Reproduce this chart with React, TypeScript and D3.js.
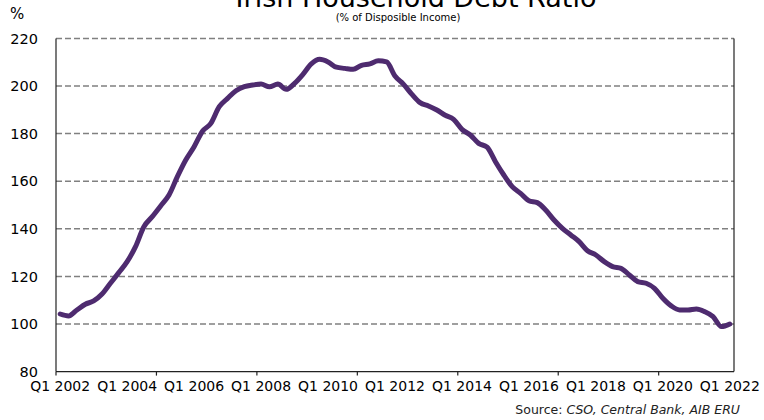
import React from "react";
import * as d3 from "d3";

const values: number[] = [
  104.2, 103.4, 105.9, 108.3, 109.7, 112.6, 117.1, 121.6, 126.2, 132.5,
  140.9, 145.1, 149.6, 154.2, 161.9, 168.9, 174.5, 181.0, 184.3, 191.3,
  194.8, 198.0, 199.7, 200.4, 200.8, 199.7, 200.8, 198.6, 201.1, 204.9,
  209.3, 211.2, 210.1, 207.9, 207.4, 207.0, 208.7, 209.3, 210.6, 210.1,
  204.2, 200.8, 196.6, 193.0, 191.6, 189.9, 187.7, 186.0, 181.8, 179.4,
  175.9, 174.3, 168.2, 162.6, 157.7, 154.9, 151.8, 151.0, 147.9, 143.7,
  140.2, 137.4, 134.6, 130.8, 129.0, 126.2, 124.1, 123.4, 120.6, 117.8,
  117.1, 115.0, 110.8, 107.6, 105.9, 105.9, 106.3, 105.2, 103.1, 98.9,
  100.0,
];
const years = d3.range(2002, 2023);
const quarters: string[] = [];
years.forEach((y) => [1, 2, 3, 4].forEach((q) => quarters.push(`Q${q} ${y}`)));
const categories = quarters.slice(0, values.length);
const xLabels = ["Q1 2002", "Q1 2004", "Q1 2006", "Q1 2008", "Q1 2010", "Q1 2012", "Q1 2014", "Q1 2016", "Q1 2018", "Q1 2020", "Q1 2022"];
const tickCats = categories.filter((_, i) => i % 12 === 0);
const yTicks = [80, 100, 120, 140, 160, 180, 200, 220];

const W = 764, H = 420;
const L = 56, R = 734, T = 38.4, B = 371.6;
const font = "'DejaVu Sans', sans-serif";

export default function App() {
  const x = d3.scaleBand<string>().domain(categories).range([L, R]).padding(0);
  const bw = x.bandwidth();
  const y = d3.scaleLinear().domain([80, 220]).range([B, T]);
  const line = d3
    .line<number>()
    .x((_, i) => (x(categories[i]) as number) + bw / 2)
    .y((d) => y(d))
    .curve(d3.curveMonotoneX);
  return (
    <svg width={W} height={H} style={{ position: "absolute", left: 0, top: 0, background: "#fff" }}>
      <text x={416} y={7} textAnchor="middle" fontFamily={font} fontSize={27} fill="#000">
        Irish Household Debt Ratio
      </text>
      <text x={398} y={21} textAnchor="middle" fontFamily={font} fontSize={10} fill="#000">
        (% of Disposible Income)
      </text>
      <text x={10} y={19} fontFamily={font} fontSize={15} fill="#000">%</text>
      {yTicks.filter((t) => t > 80).map((t) => (
        <line key={t} x1={L} x2={R} y1={y(t)} y2={y(t)} stroke="#808080" strokeWidth={1.5} strokeDasharray="6,3" />
      ))}
      {yTicks.map((t) => (
        <text key={t} x={38} y={y(t)} dy="0.36em" textAnchor="end" fontFamily={font} fontSize={14.5} fill="#000">
          {t}
        </text>
      ))}
      <line x1={L} x2={L} y1={T} y2={B} stroke="#222" strokeWidth={1.2} />
      <line x1={R} x2={R} y1={T} y2={B} stroke="#222" strokeWidth={1.2} />
      <line x1={L} x2={R} y1={B} y2={B} stroke="#222" strokeWidth={1.2} />
      {tickCats.map((c) => (
        <line key={c} x1={x(c)} x2={x(c)} y1={B} y2={B + 4} stroke="#222" strokeWidth={1.2} />
      ))}
      {xLabels.map((lab) => (
        <text key={lab} x={(x(lab) as number) + bw / 2} y={B + 19} textAnchor="middle" fontFamily={font} fontSize={14} fill="#000">
          {lab}
        </text>
      ))}
      <path d={line(values) || ""} fill="none" stroke="#4e2b6f" strokeWidth={5} strokeLinejoin="round" strokeLinecap="round" />
      <text x={740} y={414} textAnchor="end" fontFamily={font} fontSize={12.5} fill="#222">
        Source: <tspan fontStyle="italic">CSO, Central Bank, AIB ERU</tspan>
      </text>
    </svg>
  );
}
